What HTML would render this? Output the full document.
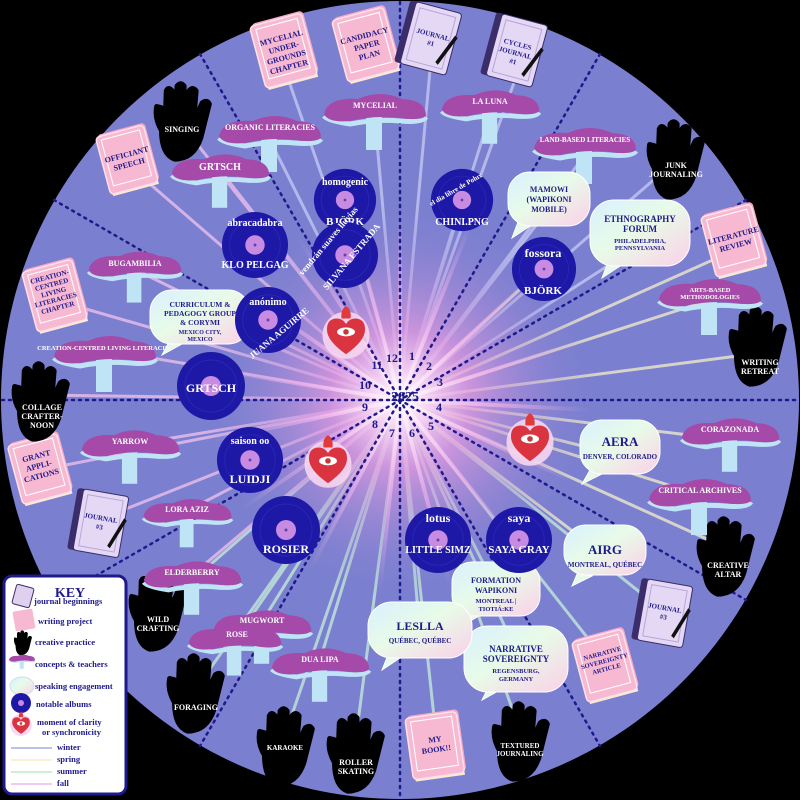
<!DOCTYPE html>
<html><head><meta charset="utf-8"><style>
html,body{margin:0;padding:0;background:#000;}
svg{display:block}
text{font-family:"Liberation Serif",serif;font-weight:bold;}
.w{fill:#fff;font-size:8px;text-anchor:middle}
.b{fill:#1e1a8c;font-size:8px;text-anchor:middle}
.v{fill:#fff;font-size:11px;text-anchor:middle}
.k{fill:#1e1a8c;font-size:8.5px}
</style></head><body>
<svg width="800" height="800" viewBox="0 0 800 800" xmlns="http://www.w3.org/2000/svg">
<defs>
<radialGradient id="glow" cx="400" cy="400" r="200" gradientUnits="userSpaceOnUse">
<stop offset="0" stop-color="#fff"/><stop offset="0.1" stop-color="#fbe0f8"/><stop offset="0.35" stop-color="#e59be0" stop-opacity="0.75"/><stop offset="1" stop-color="#7b7fd0" stop-opacity="0"/></radialGradient>
<radialGradient id="rayg" cx="400" cy="400" r="190" gradientUnits="userSpaceOnUse">
<stop offset="0" stop-color="#fff" stop-opacity="0.9"/><stop offset="0.5" stop-color="#f7b8ee" stop-opacity="0.6"/><stop offset="1" stop-color="#f7b8ee" stop-opacity="0"/></radialGradient>
<linearGradient id="bub" x1="0" y1="0" x2="1" y2="1"><stop offset="0" stop-color="#d8f0ff"/><stop offset="0.45" stop-color="#e8fbe8"/><stop offset="1" stop-color="#fbd0e8"/></linearGradient>
<symbol id="hand" viewBox="0 0 60 70"><path d="M12 42 Q6 32 8 22 L12 23 L15 36 L16 9 Q18 5 21 9 L23 32 L25 5 Q28 1 31 5 L31 32 L35 9 Q38 5 41 9 L39 34 L46 19 Q50 16 52 20 L45 48 Q39 66 23 66 Q12 62 12 42Z" fill="#000" stroke="#000" stroke-width="4" stroke-linejoin="round"/></symbol>
<symbol id="mush" viewBox="0 0 110 70"><rect x="46" y="28" width="16" height="34" fill="#bfe4f5"/><path d="M4 28 Q8 33 30 36 Q55 31 80 33 Q102 35 106 29" fill="none" stroke="#bfe4f5" stroke-width="5"/><path d="M4 26 Q8 9 38 11 Q60 1 82 11 Q106 12 106 28 Q100 33 80 30 Q55 27 30 33 Q8 35 4 26Z" fill="#a54aa8"/></symbol>
<symbol id="book" viewBox="0 0 60 75"><rect x="6" y="4" width="50" height="60" rx="4" fill="#f4a9c6"/><rect x="6" y="58" width="48" height="10" fill="#fbeccf"/><rect x="4" y="6" width="50" height="60" rx="4" fill="#f7b9d1" stroke="#fde0ea" stroke-width="1.5"/><rect x="9" y="10" width="40" height="48" fill="none" stroke="#fff" stroke-width="1"/></symbol>
<symbol id="jour" viewBox="0 0 60 70"><rect x="3" y="4" width="52" height="62" rx="3" fill="#3a2d6a"/><rect x="9" y="4" width="46" height="62" rx="3" fill="#e5d8f5" stroke="#3a2d6a"/><rect x="14" y="9" width="36" height="52" fill="none" stroke="#b9a5dc"/><path d="M42 56 L54 26 L57 28 L45 58Z" fill="#111"/></symbol>
<symbol id="vin" viewBox="0 0 70 70"><circle cx="35" cy="35" r="34" fill="#1e18a6"/><circle cx="35" cy="35" r="26" fill="none" stroke="#2b25b8" stroke-width="1"/><circle cx="35" cy="35" r="10" fill="#c88be2"/><circle cx="35" cy="35" r="1.5" fill="#6a3fa0"/></symbol>
<symbol id="heart" viewBox="0 0 50 50"><circle cx="25" cy="27" r="21" fill="#f6d6f0" opacity="0.9"/><path d="M21 12 Q20 4 25 1 Q30 4 29 12Z" fill="#e23a3a"/><path d="M25 44 Q8 32 8 22 Q8 12 17 12 Q22 12 25 17 Q28 12 33 12 Q42 12 42 22 Q42 32 25 44Z" fill="#d9343f"/><ellipse cx="25" cy="24" rx="8" ry="4" fill="#fff"/><circle cx="25" cy="24" r="2.5" fill="#c23a3a"/></symbol>
</defs>
<rect width="800" height="800" fill="#000"/>
<circle cx="400" cy="400" r="399" fill="#7b7fd0"/>
<!-- rays -->
<g stroke-width="3" opacity="0.75" stroke-linecap="round">
<g stroke="#c8ccf4"><line x1="400" y1="400" x2="285" y2="70"/><line x1="400" y1="400" x2="375" y2="120"/><line x1="400" y1="400" x2="270" y2="140"/><line x1="400" y1="400" x2="430" y2="70"/><line x1="400" y1="400" x2="515" y2="80"/><line x1="400" y1="400" x2="490" y2="115"/><line x1="400" y1="400" x2="585" y2="155"/><line x1="400" y1="400" x2="548" y2="210"/><line x1="400" y1="400" x2="640" y2="245"/><line x1="400" y1="400" x2="345" y2="200"/><line x1="400" y1="400" x2="462" y2="200"/><line x1="400" y1="400" x2="665" y2="170"/></g>
<g stroke="#f3f0c8"><line x1="400" y1="400" x2="735" y2="250"/><line x1="400" y1="400" x2="710" y2="300"/><line x1="400" y1="400" x2="745" y2="355"/><line x1="400" y1="400" x2="730" y2="440"/><line x1="400" y1="400" x2="700" y2="495"/><line x1="400" y1="400" x2="720" y2="545"/><line x1="400" y1="400" x2="618" y2="455"/><line x1="400" y1="400" x2="543" y2="268"/><line x1="400" y1="400" x2="604" y2="555"/></g>
<g stroke="#c8f0d8"><line x1="400" y1="400" x2="662" y2="610"/><line x1="400" y1="400" x2="605" y2="660"/><line x1="400" y1="400" x2="518" y2="655"/><line x1="400" y1="400" x2="497" y2="590"/><line x1="400" y1="400" x2="437" y2="745"/><line x1="400" y1="400" x2="520" y2="730"/><line x1="400" y1="400" x2="420" y2="635"/><line x1="400" y1="400" x2="355" y2="745"/><line x1="400" y1="400" x2="285" y2="735"/><line x1="400" y1="400" x2="320" y2="660"/><line x1="400" y1="400" x2="195" y2="690"/><line x1="400" y1="400" x2="235" y2="640"/><line x1="400" y1="400" x2="260" y2="625"/><line x1="400" y1="400" x2="158" y2="610"/></g>
<g stroke="#f2c4ee"><line x1="400" y1="400" x2="192" y2="575"/><line x1="400" y1="400" x2="185" y2="512"/><line x1="400" y1="400" x2="98" y2="520"/><line x1="400" y1="400" x2="130" y2="445"/><line x1="400" y1="400" x2="40" y2="470"/><line x1="400" y1="400" x2="40" y2="395"/><line x1="400" y1="400" x2="105" y2="350"/><line x1="400" y1="400" x2="55" y2="300"/><line x1="400" y1="400" x2="132" y2="268"/><line x1="400" y1="400" x2="200" y2="315"/><line x1="400" y1="400" x2="128" y2="165"/><line x1="400" y1="400" x2="220" y2="170"/><line x1="400" y1="400" x2="182" y2="125"/></g>
</g>
<circle cx="400" cy="400" r="200" fill="url(#glow)"/>
<g stroke="url(#rayg)" stroke-width="4">
<line x1="400" y1="400" x2="400" y2="210"/><line x1="400" y1="400" x2="470" y2="225"/><line x1="400" y1="400" x2="540" y2="270"/><line x1="400" y1="400" x2="585" y2="340"/><line x1="400" y1="400" x2="590" y2="410"/><line x1="400" y1="400" x2="570" y2="480"/><line x1="400" y1="400" x2="520" y2="550"/><line x1="400" y1="400" x2="450" y2="585"/><line x1="400" y1="400" x2="380" y2="590"/><line x1="400" y1="400" x2="310" y2="570"/><line x1="400" y1="400" x2="240" y2="510"/><line x1="400" y1="400" x2="215" y2="440"/><line x1="400" y1="400" x2="215" y2="370"/><line x1="400" y1="400" x2="240" y2="290"/><line x1="400" y1="400" x2="300" y2="240"/><line x1="400" y1="400" x2="350" y2="215"/>
</g>
<!-- dividers -->
<g stroke="#1e1a8c" stroke-width="2.5" stroke-dasharray="2 5" stroke-linecap="round">
<line x1="400" y1="2" x2="400" y2="798"/><line x1="2" y1="400" x2="798" y2="400"/>
<line x1="200" y1="54" x2="600" y2="746"/><line x1="54" y1="200" x2="746" y2="600"/>
<line x1="600" y1="54" x2="200" y2="746"/><line x1="746" y1="200" x2="54" y2="600"/>
</g>
<!-- clock -->
<g>
<text x="392" y="362" class="b" style="font-size:12px">12</text><text x="412" y="360" class="b" style="font-size:12px">1</text><text x="429" y="370" class="b" style="font-size:12px">2</text><text x="440" y="386" class="b" style="font-size:12px">3</text><text x="439" y="411" class="b" style="font-size:12px">4</text><text x="431" y="430" class="b" style="font-size:12px">5</text><text x="412" y="437" class="b" style="font-size:12px">6</text><text x="392" y="437" class="b" style="font-size:12px">7</text><text x="375" y="428" class="b" style="font-size:12px">8</text><text x="365" y="411" class="b" style="font-size:12px">9</text><text x="365" y="389" class="b" style="font-size:12px">10</text><text x="377" y="369" class="b" style="font-size:12px">11</text>
<text x="405" y="401" class="b" style="font-size:14px">2025</text></g>
<!-- books -->
<g>
<use href="#book" x="252" y="12" width="66" height="80" transform="rotate(-15 285 52)"/><text class="b" x="285" y="40" transform="rotate(-15 285 52)">MYCELIAL<tspan x="285" dy="10">UNDER-</tspan><tspan x="285" dy="10">GROUNDS</tspan><tspan x="285" dy="10">CHAPTER</tspan></text>
<use href="#book" x="334" y="6" width="66" height="80" transform="rotate(-15 367 46)"/><text class="b" x="367" y="38" transform="rotate(-15 367 46)">CANDIDACY<tspan x="367" dy="10">PAPER</tspan><tspan x="367" dy="10">PLAN</tspan></text>
<use href="#book" x="98" y="124" width="60" height="74" transform="rotate(-15 128 160)"/><text class="b" x="128" y="157" transform="rotate(-15 128 160)">OFFICIANT<tspan x="128" dy="10">SPEECH</tspan></text>
<use href="#book" x="25" y="258" width="62" height="78" transform="rotate(-15 56 297)"/><text class="b" x="55" y="278" transform="rotate(-15 56 297)" style="font-size:7px">CREATION-<tspan x="55" dy="8">CENTRED</tspan><tspan x="55" dy="8">LIVING</tspan><tspan x="55" dy="8">LITERACIES</tspan><tspan x="55" dy="8">CHAPTER</tspan></text>
<use href="#book" x="10" y="432" width="62" height="76" transform="rotate(-15 41 470)"/><text class="b" x="40" y="458" transform="rotate(-15 41 470)">GRANT<tspan x="40" dy="10">APPLI-</tspan><tspan x="40" dy="10">CATIONS</tspan></text>
<use href="#book" x="703" y="203" width="64" height="78" transform="rotate(-15 735 242)"/><text class="b" x="735" y="238" transform="rotate(-15 735 242)">LITERATURE<tspan x="735" dy="10">REVIEW</tspan></text>
<use href="#book" x="574" y="628" width="64" height="78" transform="rotate(-15 606 667)"/><text class="b" x="606" y="655" transform="rotate(-15 606 667)" style="font-size:6.5px">NARRATIVE<tspan x="606" dy="8">SOVEREIGNTY</tspan><tspan x="606" dy="8">ARTICLE</tspan></text>
<use href="#book" x="405" y="708" width="62" height="78" transform="rotate(-8 436 747)"/><text class="b" x="436" y="742" transform="rotate(-8 436 747)">MY<tspan x="436" dy="10">BOOK!!</tspan></text>
</g>
<!-- journals -->
<use href="#jour" x="398" y="2" width="62" height="72" transform="rotate(15 429 38)"/><text class="b" x="432" y="36" transform="rotate(15 429 38)" style="font-size:7px">JOURNAL<tspan x="432" dy="9">#1</tspan></text>
<use href="#jour" x="484" y="14" width="62" height="72" transform="rotate(15 515 50)"/><text class="b" x="516" y="46" transform="rotate(15 515 50)" style="font-size:7px">CYCLES<tspan x="516" dy="9">JOURNAL</tspan><tspan x="516" dy="9">#1</tspan></text>
<use href="#jour" x="68" y="488" width="62" height="70" transform="rotate(10 99 523)"/><text class="b" x="100" y="520" transform="rotate(10 99 523)" style="font-size:7px">JOURNAL<tspan x="100" dy="9">#3</tspan></text>
<use href="#jour" x="632" y="578" width="62" height="70" transform="rotate(10 663 613)"/><text class="b" x="664" y="610" transform="rotate(10 663 613)" style="font-size:7px">JOURNAL<tspan x="664" dy="9">#3</tspan></text>
<!-- hands -->
<use href="#hand" x="147" y="80" width="72" height="84"/><text class="w" x="182" y="132">SINGING</text>
<use href="#hand" x="640" y="118" width="72" height="84"/><text class="w" x="676" y="168">JUNK<tspan x="676" dy="9">JOURNALING</tspan></text>
<use href="#hand" x="722" y="305" width="72" height="84"/><text class="w" x="760" y="365">WRITING<tspan x="760" dy="9">RETREAT</tspan></text>
<use href="#hand" x="5" y="360" width="72" height="84"/><text class="w" x="42" y="410">COLLAGE<tspan x="42" dy="9">CRAFTER-</tspan><tspan x="42" dy="9">NOON</tspan></text>
<use href="#hand" x="690" y="515" width="72" height="84"/><text class="w" x="728" y="568">CREATIVE<tspan x="728" dy="9">ALTAR</tspan></text>
<use href="#hand" x="122" y="570" width="72" height="84"/><text class="w" x="158" y="622">WILD<tspan x="158" dy="9">CRAFTING</tspan></text>
<use href="#hand" x="160" y="652" width="72" height="84"/><text class="w" x="196" y="710">FORAGING</text>
<use href="#hand" x="250" y="705" width="72" height="84"/><text class="w" x="285" y="750" style="font-size:7px">KARAOKE</text>
<use href="#hand" x="320" y="712" width="72" height="84"/><text class="w" x="356" y="765">ROLLER<tspan x="356" dy="9">SKATING</tspan></text>
<use href="#hand" x="485" y="700" width="72" height="84"/><text class="w" x="520" y="748" style="font-size:7px">TEXTURED<tspan x="520" dy="8">JOURNALING</tspan></text>
<!-- mushrooms -->
<g>
<use href="#mush" x="215" y="110" width="110" height="70"/><text class="w" x="270" y="130">ORGANIC LITERACIES</text>
<use href="#mush" x="320" y="88" width="110" height="70"/><text class="w" x="375" y="108">MYCELIAL</text>
<use href="#mush" x="438" y="84" width="105" height="68"/><text class="w" x="490" y="104">LA LUNA</text>
<use href="#mush" x="530" y="122" width="110" height="70"/><text class="w" x="585" y="142" style="font-size:7px">LAND-BASED LITERACIES</text>
<use href="#mush" x="168" y="148" width="105" height="68"/><text class="w" x="220" y="170" style="font-size:10px">GRTSCH</text>
<use href="#mush" x="85" y="245" width="100" height="66"/><text class="w" x="135" y="266">BUGAMBILIA</text>
<use href="#mush" x="50" y="330" width="110" height="70"/><text class="w" x="105" y="350" style="font-size:6.5px">CREATION-CENTRED LIVING LITERACIES</text>
<use href="#mush" x="655" y="273" width="110" height="70"/><text class="w" x="710" y="292" style="font-size:6.5px">ARTS-BASED<tspan x="710" dy="7">METHODOLOGIES</tspan></text>
<use href="#mush" x="78" y="424" width="105" height="68"/><text class="w" x="130" y="444">YARROW</text>
<use href="#mush" x="678" y="412" width="105" height="68"/><text class="w" x="730" y="432">CORAZONADA</text>
<use href="#mush" x="645" y="473" width="110" height="70"/><text class="w" x="700" y="493">CRITICAL ARCHIVES</text>
<use href="#mush" x="140" y="493" width="95" height="62"/><text class="w" x="187" y="512">LORA AZIZ</text>
<use href="#mush" x="140" y="555" width="105" height="68"/><text class="w" x="192" y="575">ELDERBERRY</text>
<use href="#mush" x="210" y="604" width="105" height="68"/><text class="w" x="262" y="623">MUGWORT</text>
<use href="#mush" x="185" y="618" width="100" height="66"/><text class="w" x="237" y="637">ROSE</text>
<use href="#mush" x="268" y="642" width="105" height="68"/><text class="w" x="320" y="662">DUA LIPA</text>
</g>
<!-- bubbles -->
<g stroke="#fff" stroke-width="1">
<path d="M518 222 L512 238 L530 226Z" fill="url(#bub)"/><rect x="508" y="172" width="82" height="54" rx="22" fill="url(#bub)"/>
<path d="M608 262 L602 278 L620 266Z" fill="url(#bub)"/><rect x="590" y="200" width="100" height="66" rx="24" fill="url(#bub)"/>
<path d="M170 340 L162 355 L182 344Z" fill="url(#bub)"/><rect x="150" y="290" width="100" height="54" rx="22" fill="url(#bub)"/>
<path d="M590 470 L582 484 L602 474Z" fill="url(#bub)"/><rect x="580" y="420" width="80" height="54" rx="22" fill="url(#bub)"/>
<path d="M578 572 L572 586 L592 576Z" fill="url(#bub)"/><rect x="564" y="525" width="82" height="50" rx="22" fill="url(#bub)"/>
<path d="M468 612 L462 626 L482 614Z" fill="url(#bub)"/><rect x="452" y="562" width="88" height="54" rx="20" fill="url(#bub)"/>
<path d="M488 688 L482 700 L500 690Z" fill="url(#bub)"/><rect x="464" y="626" width="104" height="66" rx="24" fill="url(#bub)"/>
<path d="M388 655 L382 670 L400 658Z" fill="url(#bub)"/><rect x="368" y="602" width="104" height="56" rx="24" fill="url(#bub)"/>
</g>
<g>
<text class="b" x="549" y="192">MAMOWI<tspan x="549" dy="10">(WAPIKONI</tspan><tspan x="549" dy="10">MOBILE)</tspan></text>
<text class="b" x="640" y="222" style="font-size:9px">ETHNOGRAPHY<tspan x="640" dy="10">FORUM</tspan><tspan x="640" dy="11" style="font-size:6.5px">PHILADELPHIA,</tspan><tspan x="640" dy="7" style="font-size:6.5px">PENNSYLVANIA</tspan></text>
<text class="b" x="200" y="307" style="font-size:7.5px">CURRICULUM &amp;<tspan x="200" dy="9">PEDAGOGY GROUP</tspan><tspan x="200" dy="9">&amp; CORYMI</tspan><tspan x="200" dy="9" style="font-size:6px">MEXICO CITY,</tspan><tspan x="200" dy="7" style="font-size:6px">MEXICO</tspan></text>
<text class="b" x="620" y="446" style="font-size:13px">AERA<tspan x="620" dy="13" style="font-size:7px">DENVER, COLORADO</tspan></text>
<text class="b" x="605" y="554" style="font-size:13px">AIRG<tspan x="605" dy="13" style="font-size:7px">MONTREAL, QUÉBEC</tspan></text>
<text class="b" x="496" y="583">FORMATION<tspan x="496" dy="10">WAPIKONI</tspan><tspan x="496" dy="10" style="font-size:6.5px">MONTREAL |</tspan><tspan x="496" dy="8" style="font-size:6.5px">TIOTIÁ:KE</tspan></text>
<text class="b" x="516" y="652" style="font-size:9px">NARRATIVE<tspan x="516" dy="10">SOVEREIGNTY</tspan><tspan x="516" dy="11" style="font-size:6.5px">REGENSBURG,</tspan><tspan x="516" dy="8" style="font-size:6.5px">GERMANY</tspan></text>
<text class="b" x="420" y="630" style="font-size:12px">LESLLA<tspan x="420" dy="13" style="font-size:7px">QUÉBEC, QUÉBEC</tspan></text>
</g>
<!-- vinyls -->
<use href="#vin" x="313" y="168" width="64" height="64"/><text class="v" x="345" y="185" style="font-size:10px">homogenic</text><text class="v" x="345" y="225">BJÖRK</text>
<use href="#vin" x="430" y="168" width="64" height="64"/><text class="v" x="462" y="190" style="font-size:7px" transform="rotate(-30 462 200)">el dia libre de Polux</text><text class="v" x="462" y="225" style="font-size:10px">CHINI.PNG</text>
<use href="#vin" x="221" y="211" width="68" height="68"/><text class="v" x="255" y="226" style="font-size:10px">abracadabra</text><text class="v" x="255" y="268" style="font-size:10px">KLO PELGAG</text>
<use href="#vin" x="311" y="221" width="68" height="68"/><text class="v" x="345" y="236" style="font-size:9px" transform="rotate(-50 345 255)">vendrán suaves lluvias</text><text class="v" x="348" y="264" style="font-size:9px" transform="rotate(-50 345 255)">SILVANA ESTRADA</text>
<use href="#vin" x="234" y="286" width="68" height="68"/><text class="v" x="268" y="305" style="font-size:10px">anónimo</text><text class="v" x="268" y="340" style="font-size:9px" transform="rotate(-40 268 320)">JUANA AGUIRRE</text>
<use href="#vin" x="511" y="236" width="66" height="66"/><text class="v" x="543" y="257" style="font-size:12px">fossora</text><text class="v" x="543" y="294">BJÖRK</text>
<use href="#vin" x="176" y="351" width="70" height="70"/><text class="v" x="211" y="392" style="font-size:12px">GRTSCH</text>
<use href="#vin" x="216" y="426" width="68" height="68"/><text class="v" x="250" y="444" style="font-size:10px">saison oo</text><text class="v" x="250" y="483" style="font-size:12px">LUIDJI</text>
<use href="#vin" x="251" y="495" width="70" height="70"/><text class="v" x="286" y="553" style="font-size:12px">ROSIER</text>
<use href="#vin" x="404" y="506" width="68" height="68"/><text class="v" x="438" y="522" style="font-size:12px">lotus</text><text class="v" x="438" y="553" style="font-size:10px">LITTLE SIMZ</text>
<use href="#vin" x="485" y="506" width="68" height="68"/><text class="v" x="519" y="522" style="font-size:12px">saya</text><text class="v" x="519" y="553" style="font-size:11px">SAYA GRAY</text>
<!-- hearts -->
<use href="#heart" x="318" y="305" width="56" height="56"/>
<use href="#heart" x="300" y="434" width="56" height="56"/>
<use href="#heart" x="502" y="412" width="56" height="56"/>
<!-- key -->
<rect x="4" y="576" width="122" height="218" rx="8" fill="#fff" stroke="#1e1a8c" stroke-width="3"/>
<text x="70" y="597" class="b" style="font-size:14px">KEY</text>
<rect x="14" y="586" width="18" height="20" rx="2" fill="#e0d0f0" stroke="#3a2d6a" transform="rotate(15 23 596)"/>
<text x="34" y="604" class="k">journal beginnings</text>
<rect x="14" y="610" width="20" height="20" rx="2" fill="#f7b9d1" transform="rotate(-10 24 620)"/>
<text x="38" y="624" class="k">writing project</text>
<use href="#hand" x="10" y="630" width="26" height="26"/>
<text x="35" y="645" class="k">creative practice</text>
<use href="#mush" x="8" y="652" width="28" height="20"/>
<text x="35" y="667" class="k">concepts &amp; teachers</text>
<ellipse cx="22" cy="686" rx="12" ry="9" fill="url(#bub)" stroke="#cde"/>
<text x="35" y="689" class="k">speaking engagement</text>
<circle cx="21" cy="703" r="10" fill="#1e18a6"/><circle cx="21" cy="703" r="3" fill="#c88be2"/>
<text x="36" y="707" class="k">notable albums</text>
<use href="#heart" x="8" y="711" width="26" height="26"/>
<text x="37" y="725" class="k">moment of clarity</text><text x="42" y="735" class="k">or synchronicity</text>
<line x1="11" y1="748" x2="52" y2="748" stroke="#a9acdf" stroke-width="1.5"/><text x="57" y="750" class="k">winter</text>
<line x1="11" y1="760" x2="52" y2="760" stroke="#f3eec4" stroke-width="1.5"/><text x="57" y="762" class="k">spring</text>
<line x1="11" y1="772" x2="52" y2="772" stroke="#b8eec4" stroke-width="1.5"/><text x="57" y="774" class="k">summer</text>
<line x1="11" y1="784" x2="52" y2="784" stroke="#f0b8ec" stroke-width="1.5"/><text x="57" y="786" class="k">fall</text>
</svg>
</body></html>
